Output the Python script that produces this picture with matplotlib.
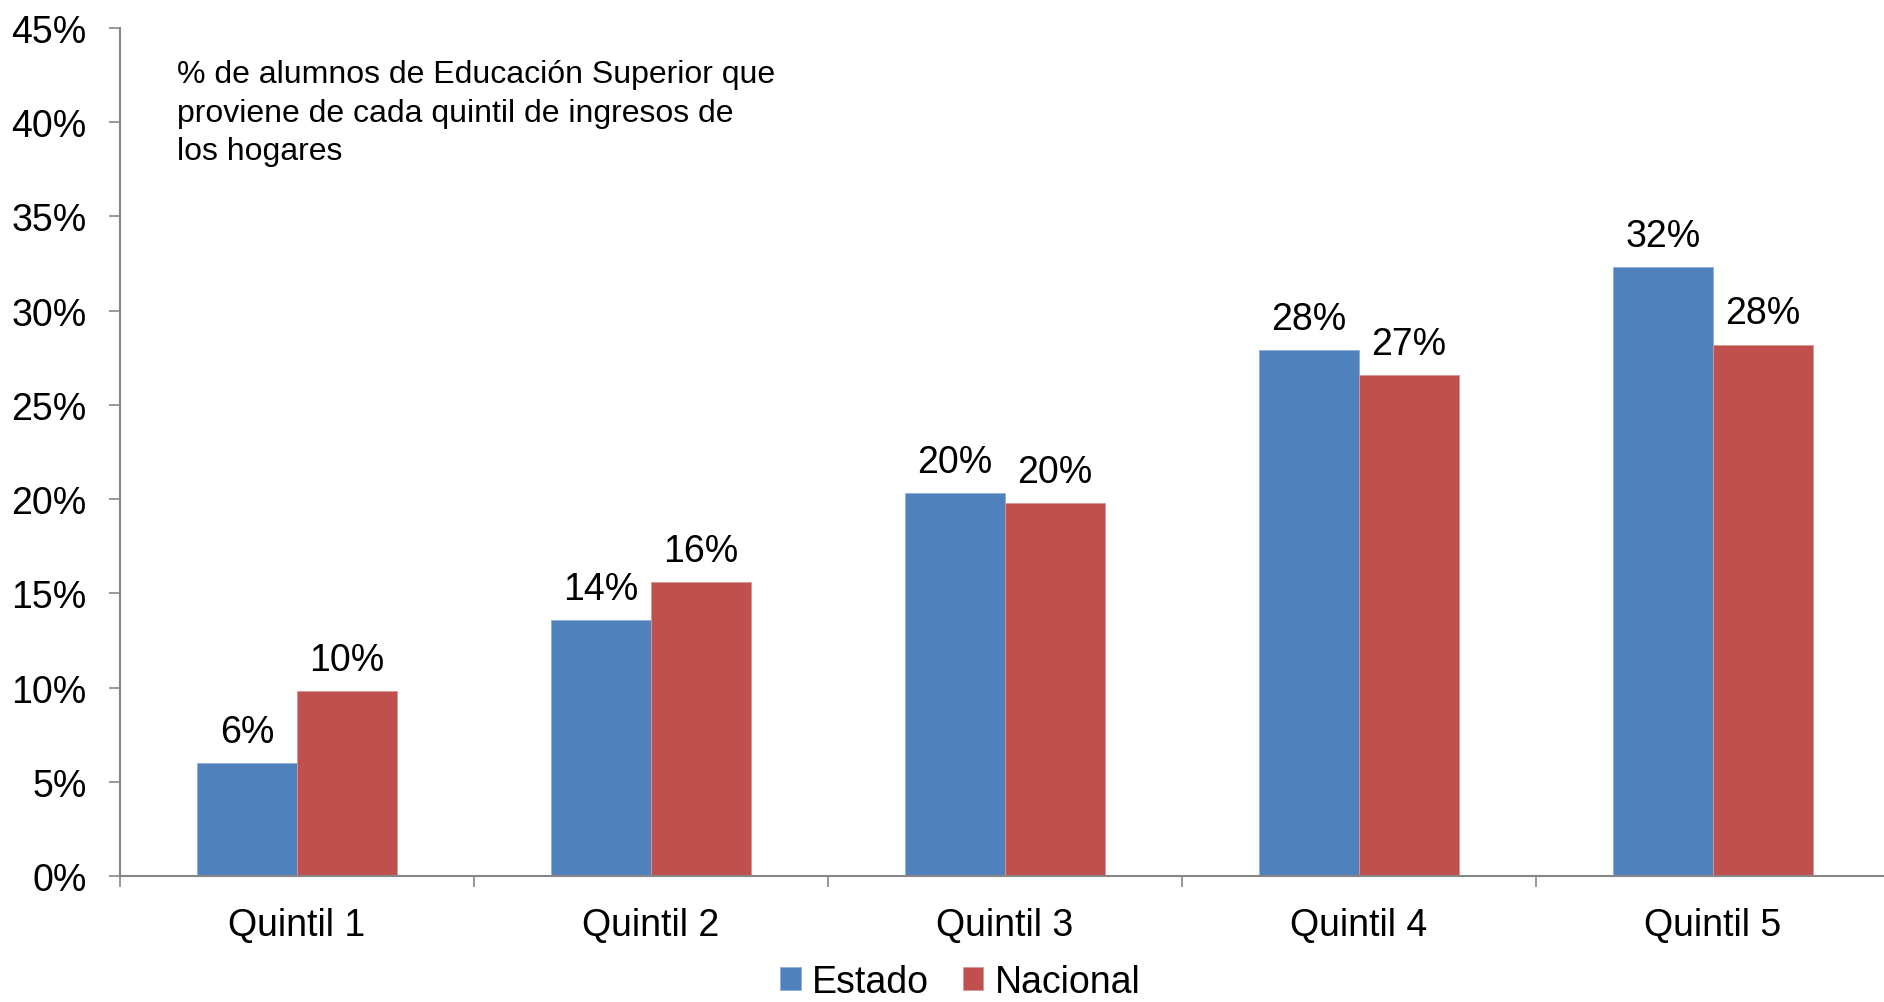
import matplotlib
matplotlib.use("Agg")
import matplotlib.pyplot as plt
import numpy as np
from matplotlib.ticker import FuncFormatter, FixedLocator

plt.rcParams['font.family'] = ['Liberation Sans', 'DejaVu Sans']

categories = ["Quintil 1", "Quintil 2", "Quintil 3", "Quintil 4", "Quintil 5"]
estado = [6.0, 13.6, 20.3, 27.9, 32.3]
nacional = [9.8, 15.6, 19.8, 26.6, 28.2]
series_names = ["Estado", "Nacional"]
yticks = [0, 5, 10, 15, 20, 25, 30, 35, 40, 45]
note = "% de alumnos de Educación Superior que\nproviene de cada quintil de ingresos de\nlos hogares"

blue = "#4F81BD"
red = "#C0504D"
spine = "#868686"

fig = plt.figure(figsize=(18.84, 10.03), dpi=100)
ax = fig.add_axes([120/1884, 1 - 877/1003, (1890 - 120)/1884, (877 - 29)/1003])

x = np.arange(len(categories))
w = 0.283
b1 = ax.bar(x - w/2, estado, w, color=blue, edgecolor="#8FAEDA", linewidth=0.6, label=series_names[0], zorder=2)
b2 = ax.bar(x + w/2, nacional, w, color=red, edgecolor="#D99694", linewidth=0.6, label=series_names[1], zorder=2)

for bars, vals in ((b1, estado), (b2, nacional)):
    for r, v in zip(bars, vals):
        ax.annotate(f"{v:.0f}%", (r.get_x() + r.get_width()/2, v), xytext=(0, 9.5),
                    textcoords="offset points", ha="center", va="bottom", fontsize=27)

ax.set_xlim(-0.5, len(categories) - 0.5)
ax.set_ylim(0, 45)
ax.set_yticks(yticks)
ax.yaxis.set_major_formatter(FuncFormatter(lambda v, p: f"{v:.0f}%"))
ax.set_xticks(x)
ax.set_xticklabels(categories)
ax.xaxis.set_minor_locator(FixedLocator(np.arange(-0.5, len(categories), 1.0)))
ax.tick_params(axis="x", which="major", length=0, pad=22, labelsize=27)
ax.tick_params(axis="x", which="minor", length=8, width=1.2, color=spine, direction="out")
ax.tick_params(axis="y", length=8, width=1.2, color=spine, pad=16, labelsize=27)

for s in ("top", "right"):
    ax.spines[s].set_visible(False)
for s in ("left", "bottom"):
    ax.spines[s].set_color(spine)
    ax.spines[s].set_linewidth(1.5)

fig.text(177/1884, 1 - 60/1003, note, fontsize=23, va="top", ha="left", linespacing=1.38)

fig.legend(handles=[b1, b2], labels=series_names, loc="center",
           bbox_to_anchor=(960/1884, 1 - 983/1003), ncol=2, frameon=False,
           fontsize=27, handlelength=0.55, handleheight=0.55, handletextpad=0.3,
           columnspacing=0.9, borderaxespad=0, borderpad=0)

fig.savefig("out.png", dpi=100)
